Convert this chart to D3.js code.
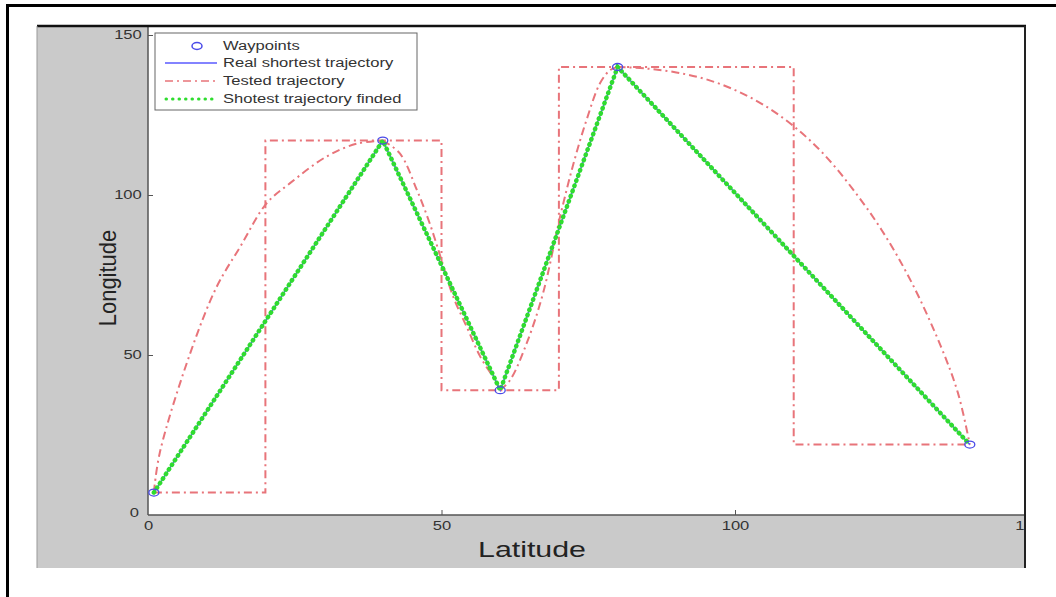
<!DOCTYPE html>
<html>
<head>
<meta charset="utf-8">
<script src="https://cdn.jsdelivr.net/npm/d3@7"></script>
<style>
  body { margin: 0; background: #fff; }
  svg { display: block; font-family: "Liberation Sans", Arial, sans-serif; }
</style>
</head>
<body>
<div id="chart"></div>
<script>
// waypoints of the route
const waypointX = [1, 40, 60, 80, 140];
const waypointY = [7, 117, 39, 140, 22];

// tested trajectory, step version
const stepX = [1, 20, 20, 50, 50, 70, 70, 110, 110, 140];
const stepY = [7, 7, 117, 117, 39, 39, 140, 140, 22, 22];

// tested trajectory, curved version (one list per leg)
const curveLegs = [
  { x: [1, 2, 7.2, 11.7, 15.7, 20.2, 24.2, 30.4, 35.5, 40],
    y: [7, 19.4, 50.6, 71.3, 83.8, 97.4, 103.7, 112, 116, 117] },
  { x: [40, 42.9, 45.8, 48, 50, 52, 54.3, 56.6, 59.1, 60],
    y: [117, 113, 101.6, 91.1, 79.7, 68.2, 58.8, 49.5, 42.2, 39] },
  { x: [60, 61.7, 64.5, 67.3, 70.2, 72.5, 74.7, 77, 78.7, 80],
    y: [39, 42.2, 53.6, 69.3, 93.2, 109.9, 123.4, 134.9, 139, 140] },
  { x: [80, 85, 90, 95, 100, 105, 110, 115, 120, 125, 130, 135, 138, 140],
    y: [140, 139.5, 138.3, 136.2, 132.8, 128, 121.5, 113, 102, 89, 73, 53, 38, 22] }
];

const xTicks = [0, 50, 100, 150];
const yTicks = [0, 50, 100, 150];
const legendLabels = ['Waypoints', 'Real shortest trajectory', 'Tested trajectory', 'Shotest trajectory finded'];

const W = 1056, H = 597;
const fig = { left: 37, top: 26, right: 1025, bottom: 568 };
const plot = { left: 148, top: 26, right: 1025, bottom: 515 };
// the original bitmap is stretched sideways
const stretch = 1.38;

const colors = {
  way: '#4a4ae8',
  real: '#5a5aff',
  tested: '#e8747a',
  found: '#2fdc2f'
};

const svg = d3.select('#chart').append('svg')
  .attr('width', W)
  .attr('height', H);

svg.append('rect').attr('width', W).attr('height', H).attr('fill', '#fff');

// outer frame (only top and left edges are inside the picture)
svg.append('line').attr('x1', 7).attr('x2', W).attr('y1', 5.5).attr('y2', 5.5)
  .attr('stroke', '#000').attr('stroke-width', 3);
svg.append('line').attr('x1', 7.5).attr('x2', 7.5).attr('y1', 4).attr('y2', H)
  .attr('stroke', '#000').attr('stroke-width', 3);

// grey figure background
svg.append('rect')
  .attr('x', fig.left).attr('y', fig.top)
  .attr('width', fig.right - fig.left).attr('height', fig.bottom - fig.top)
  .attr('fill', '#cacaca');

// white axes area
svg.append('rect')
  .attr('x', plot.left).attr('y', plot.top)
  .attr('width', plot.right - plot.left).attr('height', plot.bottom - plot.top)
  .attr('fill', '#fff');

const x = d3.scaleLinear().domain([0, 150]).range([148, 148 + 150 * 5.87]);
const y = d3.scaleLinear().domain([0, 150]).range([515, 35]);

svg.append('clipPath').attr('id', 'clip')
  .append('rect')
  .attr('x', fig.left).attr('y', fig.top)
  .attr('width', plot.right - fig.left).attr('height', H - fig.top);

svg.append('clipPath').attr('id', 'plotclip')
  .append('rect')
  .attr('x', plot.left).attr('y', plot.top)
  .attr('width', plot.right - plot.left).attr('height', plot.bottom - plot.top);

// axes
const axes = svg.append('g').attr('clip-path', 'url(#clip)');

const xAxis = axes.append('g')
  .attr('transform', `translate(0,${plot.bottom})`)
  .call(d3.axisBottom(x).tickValues(xTicks).tickSize(-5).tickPadding(6).tickFormat(d3.format('d')));
const yAxis = axes.append('g')
  .attr('transform', `translate(${plot.left},0)`)
  .call(d3.axisLeft(y).tickValues(yTicks).tickSize(-5).tickPadding(4.5).tickFormat(d3.format('d')));

[xAxis, yAxis].forEach(a => {
  a.select('.domain').attr('stroke', '#555').attr('stroke-width', 1.5);
  a.selectAll('.tick line').attr('stroke', '#555');
  a.selectAll('.tick text')
    .attr('fill', '#333')
    .attr('transform', `scale(${stretch},1)`)
    .style('font-size', '12px')
    .style('font-family', '"Liberation Sans", Arial, sans-serif');
});
xAxis.select('.domain').attr('d', `M${plot.left},0H${plot.right}`);
yAxis.select('.domain').attr('d', `M0,${plot.bottom}V${plot.top}`);
// y=0 tick label sits a bit lower/left in the original
yAxis.selectAll('.tick').filter(d => d === 0).select('text').attr('dy', '0.1em').attr('x', -6.5);
xAxis.selectAll('.tick').filter(d => d === 0).select('line').remove();
yAxis.selectAll('.tick').filter(d => d === 0).select('line').remove();

// axis titles
svg.append('text')
  .attr('transform', `translate(478,557) scale(${stretch},1)`)
  .attr('text-anchor', 'start')
  .attr('fill', '#222')
  .style('font-size', '22px')
  .text('Latitude');

svg.append('text')
  .attr('transform', `translate(116,278) scale(${stretch * 0.8},1) rotate(-90)`)
  .attr('text-anchor', 'middle')
  .attr('fill', '#222')
  .style('font-size', '22px')
  .text('Longitude');

// data marks
const g = svg.append('g').attr('clip-path', 'url(#plotclip)');

const lineXY = (xs, ys) => xs.map((v, i) => [v, ys[i]]);

const straight = d3.line().x(d => x(d[0])).y(d => y(d[1]));
const smooth = d3.line().x(d => x(d[0])).y(d => y(d[1])).curve(d3.curveCatmullRom.alpha(0.5));

const dashDot = '8,4,2,4';

g.append('path')
  .attr('d', straight(lineXY(stepX, stepY)))
  .attr('fill', 'none')
  .attr('stroke', colors.tested)
  .attr('stroke-width', 2)
  .attr('stroke-dasharray', dashDot);

curveLegs.forEach(leg => {
  g.append('path')
    .attr('d', smooth(lineXY(leg.x, leg.y)))
    .attr('fill', 'none')
    .attr('stroke', colors.tested)
    .attr('stroke-width', 2)
    .attr('stroke-dasharray', dashDot);
});

g.append('path')
  .attr('d', straight(lineXY(waypointX, waypointY)))
  .attr('fill', 'none')
  .attr('stroke', colors.real)
  .attr('stroke-width', 1.5);

g.append('path')
  .attr('d', straight(lineXY(waypointX, waypointY)))
  .attr('fill', 'none')
  .attr('stroke', colors.found)
  .attr('stroke-width', 4.5)
  .attr('stroke-linecap', 'round')
  .attr('stroke-dasharray', '0.5,5');

g.selectAll('.wp')
  .data(lineXY(waypointX, waypointY))
  .join('ellipse')
  .attr('class', 'wp')
  .attr('cx', d => x(d[0]))
  .attr('cy', d => y(d[1]))
  .attr('rx', 5)
  .attr('ry', 3.5)
  .attr('fill', 'none')
  .attr('stroke', colors.way)
  .attr('stroke-width', 1.3);

// top / right crop lines of the embedded figure
svg.append('line').attr('x1', fig.left).attr('x2', fig.right + 1).attr('y1', fig.top).attr('y2', fig.top)
  .attr('stroke', '#111').attr('stroke-width', 2.5);
svg.append('line').attr('x1', fig.left).attr('x2', fig.left).attr('y1', fig.top).attr('y2', fig.bottom)
  .attr('stroke', '#999').attr('stroke-width', 1);
svg.append('line').attr('x1', fig.right).attr('x2', fig.right).attr('y1', fig.top).attr('y2', fig.bottom)
  .attr('stroke', '#222').attr('stroke-width', 2);

// legend
const lg = svg.append('g').attr('transform', 'translate(155,33)');
lg.append('rect')
  .attr('width', 262).attr('height', 77)
  .attr('fill', '#fff')
  .attr('stroke', '#666')
  .attr('stroke-width', 1);

const rowY = [13, 30, 48, 66];
legendLabels.forEach((label, i) => {
  const row = lg.append('g').attr('transform', `translate(0,${rowY[i]})`);
  if (i === 0) {
    row.append('ellipse').attr('cx', 42).attr('cy', 0).attr('rx', 5).attr('ry', 3.5)
      .attr('fill', 'none').attr('stroke', colors.way).attr('stroke-width', 1.5);
  } else if (i === 1) {
    row.append('line').attr('x1', 10).attr('x2', 62).attr('y1', 0).attr('y2', 0)
      .attr('stroke', colors.real).attr('stroke-width', 1.5);
  } else if (i === 2) {
    row.append('line').attr('x1', 10).attr('x2', 62).attr('y1', 0).attr('y2', 0)
      .attr('stroke', colors.tested).attr('stroke-width', 1.5).attr('stroke-dasharray', dashDot);
  } else {
    row.append('line').attr('x1', 11).attr('x2', 62).attr('y1', 0).attr('y2', 0)
      .attr('stroke', colors.found).attr('stroke-width', 3)
      .attr('stroke-linecap', 'round').attr('stroke-dasharray', '0.5,6');
  }
  row.append('text')
    .attr('transform', `translate(68,0) scale(${stretch},1)`)
    .attr('dy', '0.35em')
    .attr('fill', '#333')
    .style('font-size', '12px')
    .text(label);
});
</script>
</body>
</html>
